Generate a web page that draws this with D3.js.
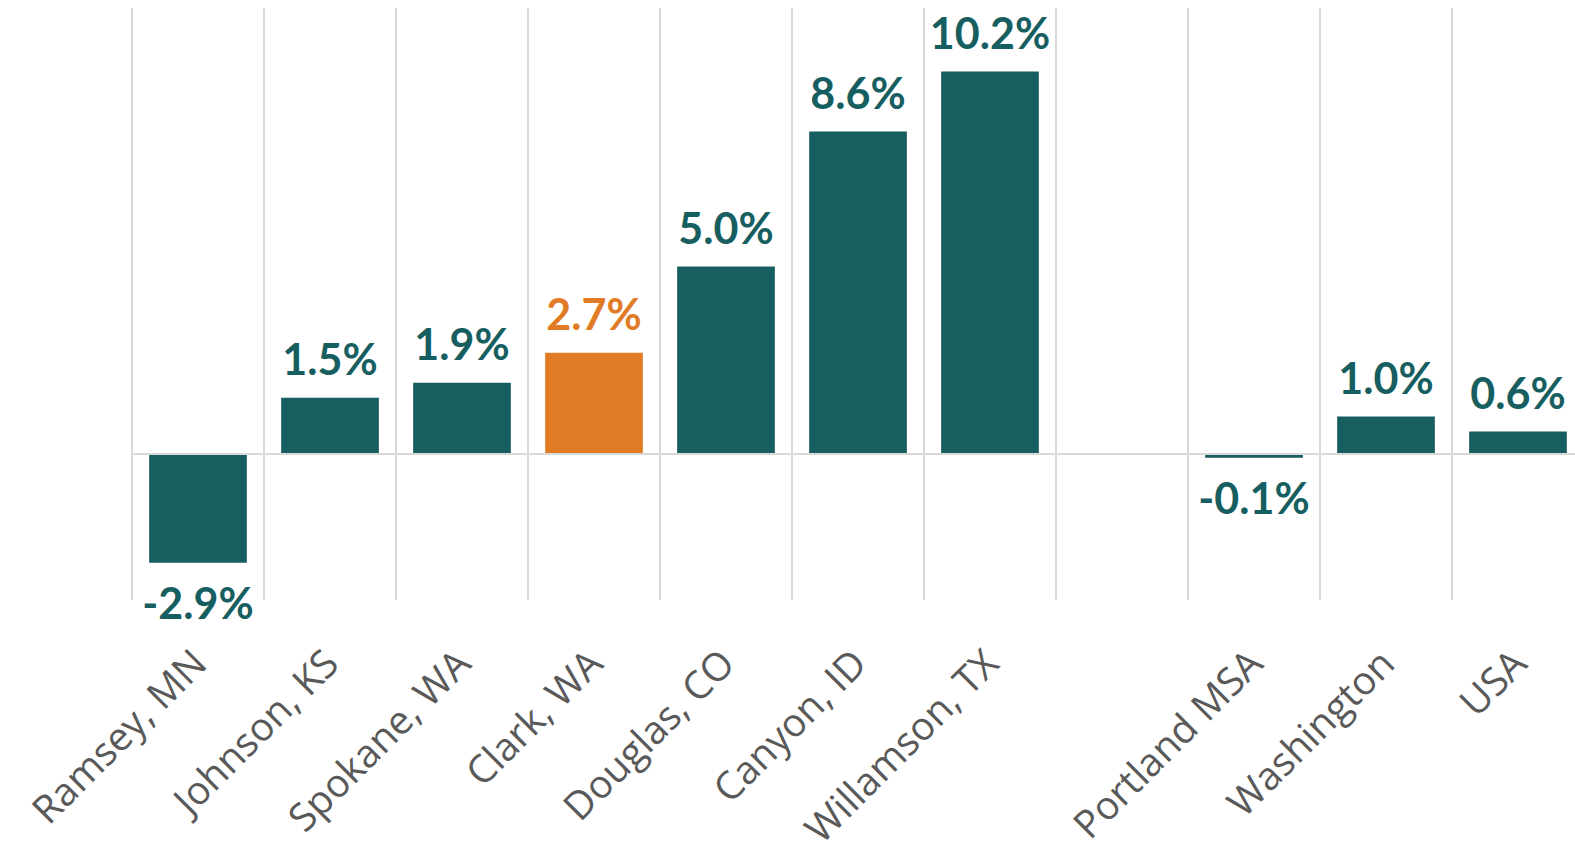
<!DOCTYPE html>
<html>
<head>
<meta charset="utf-8">
<script src="https://cdn.jsdelivr.net/npm/d3@7"></script>
<style>
  body { margin: 0; background: #fff; }
  svg { display: block; }
</style>
</head>
<body>
<div id="chart"></div>
<script>
// data
const categories = ['Ramsey, MN', 'Johnson, KS', 'Spokane, WA', 'Clark, WA', 'Douglas, CO',
  'Canyon, ID', 'Willamson, TX', '', 'Portland MSA', 'Washington', 'USA']
const values = [-2.9, 1.5, 1.9, 2.7, 5.0, 8.6, 10.2, null, -0.1, 1.0, 0.6]
const highlight = 'Clark, WA'

function draw() {
  const width = 1575
  const height = 858

  // plot area (the last band runs past the right edge, as in the original)
  const plot = { left: 132, right: 1584, top: 8, bottom: 600 }

  const svg = d3.select('#chart')
    .append('svg')
    .attr('width', width)
    .attr('height', height)

  const xScale = d3.scaleBand()
    .domain(d3.range(categories.length))
    .range([plot.left, plot.right])
    .paddingInner(0.26)
    .paddingOuter(0.13)

  const yScale = d3.scaleLinear()
    .domain([-4, 12])
    .range([604, 4])

  const step = xScale.step()
  const bandStart = i => plot.left + i * step

  // vertical gridlines between categories
  svg.append('g')
    .selectAll('line')
    .data(d3.range(categories.length + 1))
    .join('line')
    .attr('x1', i => bandStart(i))
    .attr('x2', i => bandStart(i))
    .attr('y1', plot.top)
    .attr('y2', plot.bottom)
    .attr('stroke', '#d9d9d9')
    .attr('stroke-width', 2)

  const rows = values.map((v, i) => ({ i, v, name: categories[i] }))
    .filter(d => d.v !== null)

  // bars
  svg.append('g')
    .selectAll('rect')
    .data(rows)
    .join('rect')
    .attr('x', d => xScale(d.i))
    .attr('width', xScale.bandwidth())
    .attr('y', d => Math.min(yScale(d.v), yScale(0)))
    .attr('height', d => Math.abs(yScale(d.v) - yScale(0)))
    .attr('fill', d => d.name === highlight ? '#e27b26' : '#165e60')

  // zero line
  svg.append('line')
    .attr('x1', plot.left)
    .attr('x2', width)
    .attr('y1', yScale(0))
    .attr('y2', yScale(0))
    .attr('stroke', '#d9d9d9')
    .attr('stroke-width', 2)

  // value labels
  svg.append('g')
    .selectAll('text')
    .data(rows)
    .join('text')
    .attr('x', d => xScale(d.i) + xScale.bandwidth() / 2)
    .attr('y', d => d.v >= 0 ? yScale(d.v) - 23 : yScale(d.v) + 56)
    .attr('text-anchor', 'middle')
    .attr('font-family', 'Lato, sans-serif')
    .attr('font-weight', 'bold')
    .attr('font-size', 43)
    .attr('fill', d => d.name === highlight ? '#e27b26' : '#165e60')
    .text(d => d.v.toFixed(1) + '%')

  // category labels, rotated
  svg.append('g')
    .selectAll('text')
    .data(categories.map((c, i) => ({ c, i })).filter(d => d.c))
    .join('text')
    .attr('transform', d => `translate(${xScale(d.i) + xScale.bandwidth() / 2 + 11}, 666) rotate(-45)`)
    .attr('text-anchor', 'end')
    .attr('font-family', '"Open Sans", sans-serif')
    .attr('font-size', 39)
    .attr('fill', '#595959')
    .text(d => d.c)
}

draw()
</script>
</body>
</html>
